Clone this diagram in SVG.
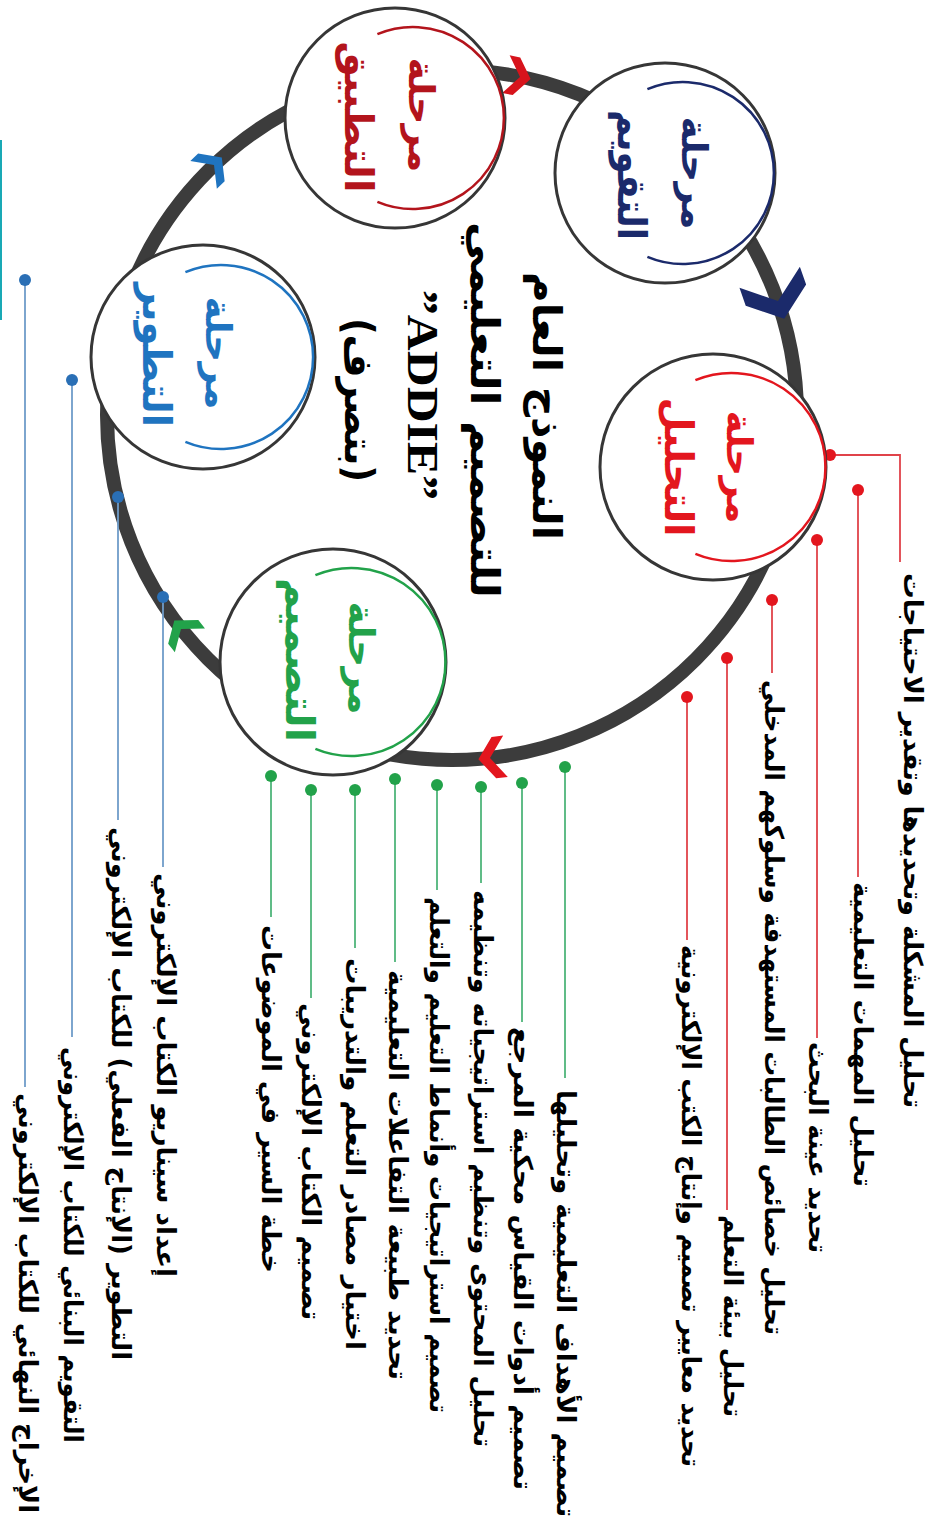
<svg xmlns="http://www.w3.org/2000/svg" xmlns:xlink="http://www.w3.org/1999/xlink" width="925" height="1523" viewBox="0 0 925 1523">
<style>
.lt{font-family:"DejaVu Sans",sans-serif;font-weight:bold;font-size:26px;fill:#000;text-anchor:middle}
.tt{font-family:"DejaVu Sans",sans-serif;font-weight:bold;font-size:40px;fill:#000;text-anchor:middle}
.en{font-family:"Liberation Serif",serif;font-weight:bold;font-size:44px;fill:#000;text-anchor:middle}
.c1{font-family:"DejaVu Sans",sans-serif;font-weight:bold;font-size:36px;text-anchor:middle}
.c2{font-family:"DejaVu Sans",sans-serif;font-weight:bold;font-size:40px;text-anchor:middle}
.node{fill:#fff;stroke:#363636;stroke-width:3}
.arc{fill:none;stroke-width:2.5}
.red{stroke:#e0434a;stroke-width:1.8;fill:none}
.grn{stroke:#4fb57a;stroke-width:1.8;fill:none}
.blu{stroke:#6f9cc9;stroke-width:1.8;fill:none}
</style>
<defs>
<path id="chev" d="M-12,-16 L-3,-16 L9,0 L-3,16 L-12,16 L0,0 Z"/>
</defs>

<g id="cycle">
<circle cx="452" cy="415" r="345" fill="none" stroke="#3c3c3c" stroke-width="14"/>
<use xlink:href="#chev" transform="translate(520,77) rotate(11.3) scale(1.2)" fill="#d7141c"/>
<use xlink:href="#chev" transform="translate(778,301) rotate(70.7) scale(2.1,2.0)" fill="#1b2a6b"/>
<use xlink:href="#chev" transform="translate(490,758) rotate(173.6) scale(1.3)" fill="#e3161e"/>
<use xlink:href="#chev" transform="translate(181,629) rotate(231.7) scale(1.2)" fill="#22a24a"/>
<use xlink:href="#chev" transform="translate(214,165) rotate(-43.7) scale(1.2)" fill="#1f74c0"/>
</g>

<g id="connectors">
<line x1="1" y1="140" x2="1" y2="320" stroke="#19a9b5" stroke-width="2"/>
<path class="red" d="M830,455 H900 V562"/>
<path class="red" d="M858,490 V877"/>
<path class="red" d="M817,540 V1038"/>
<path class="red" d="M772,600 V673"/>
<path class="red" d="M727,658 V1210"/>
<path class="red" d="M687,697 V940"/>
<g fill="#e3161e">
<circle cx="830" cy="455" r="6"/><circle cx="858" cy="490" r="6"/><circle cx="817" cy="540" r="6"/>
<circle cx="772" cy="600" r="6"/><circle cx="727" cy="658" r="6"/><circle cx="687" cy="697" r="6"/>
</g>
<path class="grn" d="M565,767 V1078"/>
<path class="grn" d="M522,783 V1022"/>
<path class="grn" d="M481,787 V883"/>
<path class="grn" d="M437,785 V890"/>
<path class="grn" d="M395,779 V962"/>
<path class="grn" d="M355,790 V948"/>
<path class="grn" d="M311,790 V998"/>
<path class="grn" d="M271,776 V917"/>
<g fill="#22a24a">
<circle cx="565" cy="767" r="6"/><circle cx="522" cy="783" r="6"/><circle cx="481" cy="787" r="6"/><circle cx="437" cy="785" r="6"/>
<circle cx="395" cy="779" r="6"/><circle cx="355" cy="790" r="6"/><circle cx="311" cy="790" r="6"/><circle cx="271" cy="776" r="6"/>
</g>
<path class="blu" d="M163,597 V867"/>
<path class="blu" d="M118,497 V820"/>
<path class="blu" d="M72,380 V1037"/>
<path class="blu" d="M25,280 V1087"/>
<g fill="#2a6fb5">
<circle cx="163" cy="597" r="6"/><circle cx="118" cy="497" r="6"/><circle cx="72" cy="380" r="6"/><circle cx="25" cy="280" r="6"/>
</g>
</g>

<g id="node-evaluation">
<circle class="node" cx="665" cy="173" r="110"/>
<path class="arc" stroke="#1b2a6b" d="M647.4,89.2 A91,91 0 1 1 647.4,256.8"/>
<text class="c1" fill="#1b2a6b" direction="rtl" transform="translate(693,173) rotate(90)" y="11" textLength="113" lengthAdjust="spacingAndGlyphs">مرحلة</text>
<text class="c2" fill="#1b2a6b" direction="rtl" transform="translate(630,175) rotate(90)" y="12" textLength="130" lengthAdjust="spacingAndGlyphs">التقويم</text>
</g>

<g id="node-application">
<circle class="node" cx="395" cy="118" r="110"/>
<path class="arc" stroke="#b3141c" d="M377.4,34.2 A91,91 0 1 1 377.4,201.8"/>
<text class="c1" fill="#b3141c" direction="rtl" transform="translate(420,115) rotate(90)" y="11" textLength="115" lengthAdjust="spacingAndGlyphs">مرحلة</text>
<text class="c2" fill="#b3141c" direction="rtl" transform="translate(357,117) rotate(90)" y="12" textLength="151" lengthAdjust="spacingAndGlyphs">التطبيق</text>
</g>

<g id="node-analysis">
<circle class="node" cx="713" cy="467" r="113"/>
<path class="arc" stroke="#e3161e" d="M695.4,380.2 A94,94 0 1 1 695.4,553.8"/>
<text class="c1" fill="#e3161e" direction="rtl" transform="translate(738,467) rotate(90)" y="11" textLength="113" lengthAdjust="spacingAndGlyphs">مرحلة</text>
<text class="c2" fill="#e3161e" direction="rtl" transform="translate(677,467) rotate(90)" y="12" textLength="139" lengthAdjust="spacingAndGlyphs">التحليل</text>
</g>

<g id="node-development">
<circle class="node" cx="203" cy="357" r="112"/>
<path class="arc" stroke="#1f74c0" d="M185.4,272.2 A92,92 0 1 1 185.4,441.8"/>
<text class="c1" fill="#1f74c0" direction="rtl" transform="translate(217,353) rotate(90)" y="11" textLength="113" lengthAdjust="spacingAndGlyphs">مرحلة</text>
<text class="c2" fill="#1f74c0" direction="rtl" transform="translate(155,355) rotate(90)" y="12" textLength="144" lengthAdjust="spacingAndGlyphs">التطوير</text>
</g>

<g id="node-design">
<circle class="node" cx="333" cy="662" r="113"/>
<path class="arc" stroke="#22a24a" d="M315.4,575.2 A94,94 0 1 1 315.4,748.8"/>
<text class="c1" fill="#22a24a" direction="rtl" transform="translate(360,658) rotate(90)" y="11" textLength="113" lengthAdjust="spacingAndGlyphs">مرحلة</text>
<text class="c2" fill="#22a24a" direction="rtl" transform="translate(298,660) rotate(90)" y="12" textLength="164" lengthAdjust="spacingAndGlyphs">التصميم</text>
</g>

<g id="title">
<text class="tt" direction="rtl" transform="translate(545,406) rotate(90)" y="12" textLength="268" lengthAdjust="spacingAndGlyphs">النموذج العام</text>
<text class="tt" direction="rtl" transform="translate(483,410) rotate(90)" y="12" textLength="376" lengthAdjust="spacingAndGlyphs">للتصميم التعليمي</text>
<text class="en" transform="translate(423,395) rotate(90)" y="15" textLength="210" lengthAdjust="spacingAndGlyphs">”ADDIE”</text>
<text class="tt" direction="rtl" transform="translate(357,400) rotate(90)" y="12" textLength="164" lengthAdjust="spacingAndGlyphs">(بتصرف)</text>
</g>

<g id="analysis-items">
<text class="lt" direction="rtl" transform="translate(912,840.5) rotate(90)" y="8" textLength="535" lengthAdjust="spacingAndGlyphs">تحليل المشكلة وتحديدها وتقدير الاحتياجات</text>
<text class="lt" direction="rtl" transform="translate(862,1034.5) rotate(90)" y="8" textLength="305" lengthAdjust="spacingAndGlyphs">تحليل المهمات التعليمية</text>
<text class="lt" direction="rtl" transform="translate(817,1147.5) rotate(90)" y="8" textLength="211" lengthAdjust="spacingAndGlyphs">تحديد عينة البحث</text>
<text class="lt" direction="rtl" transform="translate(773,1007.5) rotate(90)" y="8" textLength="655" lengthAdjust="spacingAndGlyphs">تحليل خصائص الطالبات المستهدفة وسلوكهم المدخلي</text>
<text class="lt" direction="rtl" transform="translate(732,1316) rotate(90)" y="8" textLength="202" lengthAdjust="spacingAndGlyphs">تحليل بيئة التعلم</text>
<text class="lt" direction="rtl" transform="translate(690,1206) rotate(90)" y="8" textLength="522" lengthAdjust="spacingAndGlyphs">تحديد معايير تصميم وإنتاج الكتب الإلكترونية</text>
</g>

<g id="design-items">
<text class="lt" direction="rtl" transform="translate(565,1303.5) rotate(90)" y="8" textLength="427" lengthAdjust="spacingAndGlyphs">تصميم الأهداف التعليمية وتحليلها</text>
<text class="lt" direction="rtl" transform="translate(522,1258.5) rotate(90)" y="8" textLength="463" lengthAdjust="spacingAndGlyphs">تصميم أدوات القياس محكية المرجع</text>
<text class="lt" direction="rtl" transform="translate(482,1168.5) rotate(90)" y="8" textLength="557" lengthAdjust="spacingAndGlyphs">تحليل المحتوى وتنظيم استراتيجياته وتنظيمه</text>
<text class="lt" direction="rtl" transform="translate(438,1155) rotate(90)" y="8" textLength="516" lengthAdjust="spacingAndGlyphs">تصميم استراتيجيات وأنماط التعليم والتعلم</text>
<text class="lt" direction="rtl" transform="translate(397,1175) rotate(90)" y="8" textLength="410" lengthAdjust="spacingAndGlyphs">تحديد طبيعة التفاعلات التعليمية</text>
<text class="lt" direction="rtl" transform="translate(354,1154) rotate(90)" y="8" textLength="392" lengthAdjust="spacingAndGlyphs">اختيار مصادر التعلم والتدريبات</text>
<text class="lt" direction="rtl" transform="translate(310,1161.5) rotate(90)" y="8" textLength="317" lengthAdjust="spacingAndGlyphs">تصميم الكتاب الإلكتروني</text>
<text class="lt" direction="rtl" transform="translate(270,1099) rotate(90)" y="8" textLength="348" lengthAdjust="spacingAndGlyphs">خطة السير في الموضوعات</text>
</g>

<g id="development-items">
<text class="lt" direction="rtl" transform="translate(165,1075) rotate(90)" y="8" textLength="404" lengthAdjust="spacingAndGlyphs">إعداد سيناريو الكتاب الإلكتروني</text>
<text class="lt" direction="rtl" transform="translate(120,1093.5) rotate(90)" y="8" textLength="533" lengthAdjust="spacingAndGlyphs">التطوير (الإنتاج الفعلي) للكتاب الإلكتروني</text>
<text class="lt" direction="rtl" transform="translate(72,1245) rotate(90)" y="8" textLength="396" lengthAdjust="spacingAndGlyphs">التقويم البنائي للكتاب الإلكتروني</text>
<text class="lt" direction="rtl" transform="translate(27,1303) rotate(90)" y="8" textLength="420" lengthAdjust="spacingAndGlyphs">الإخراج النهائي للكتاب الإلكتروني</text>
</g>
</svg>
